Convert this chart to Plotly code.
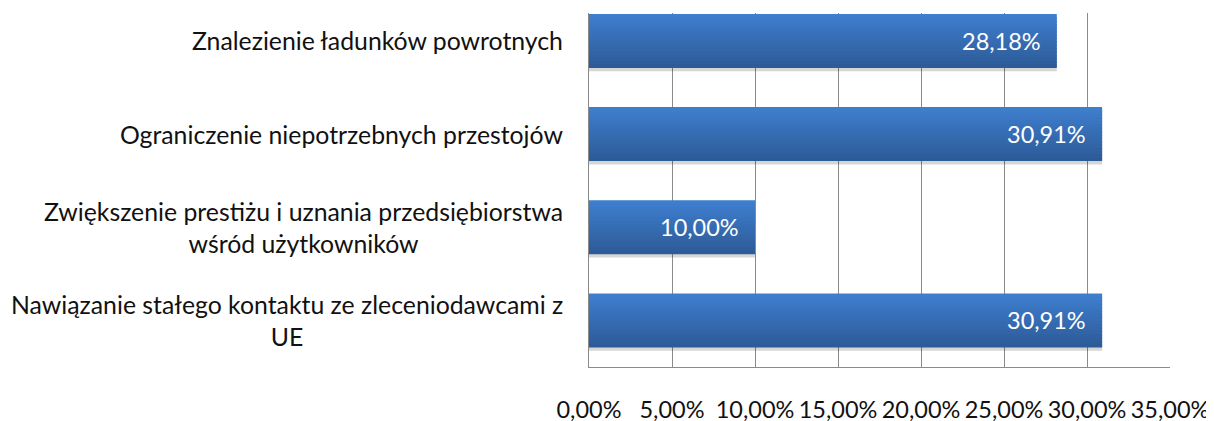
import plotly.graph_objects as go

categories = [
    "Znalezienie ładunków powrotnych",
    "Ograniczenie niepotrzebnych przestojów",
    "Zwiększenie prestiżu i uznania przedsiębiorstwa<br>wśród użytkowników",
    "Nawiązanie stałego kontaktu ze zleceniodawcami z<br>UE",
]
values = [0.2818, 0.3091, 0.1000, 0.3091]
tick_vals = [0, 0.05, 0.10, 0.15, 0.20, 0.25, 0.30, 0.35]

FONT = "Lato"
ypos = list(range(len(categories)))

top_rgb = (62, 126, 206)
bot_rgb = (45, 91, 152)
n = 16
bar_w = 0.58
strip = bar_w / n

fig = go.Figure()
# soft shadow below the bars
fig.add_trace(go.Bar(
    x=values, y=ypos, orientation="h",
    width=bar_w, offset=-bar_w / 2 + 0.035,
    marker=dict(color="rgba(0,0,0,0.16)", line=dict(width=0)),
    hoverinfo="skip", showlegend=False,
))
for k in range(n):
    t = k / (n - 1)
    c = tuple(round(top_rgb[i] + (bot_rgb[i] - top_rgb[i]) * t) for i in range(3))
    w = strip * 1.6 if k < n - 1 else strip
    fig.add_trace(go.Bar(
        x=values, y=ypos, orientation="h",
        width=w, offset=-bar_w / 2 + k * strip,
        marker=dict(color="rgb(%d,%d,%d)" % c, line=dict(width=0)),
        hoverinfo="skip", showlegend=False,
    ))

annotations = []
for i, (cat, v) in enumerate(zip(categories, values)):
    annotations.append(dict(
        x=0, xref="paper", y=i, yref="y", text=cat, showarrow=False,
        xanchor="right", yanchor="middle", align="center", xshift=-24,
        font=dict(family=FONT, size=24.8, color="#111111"),
    ))
    annotations.append(dict(
        x=v, xref="x", y=i, yref="y",
        text=("%.2f%%" % (v * 100)).replace(".", ","), showarrow=False,
        xanchor="right", yanchor="middle", xshift=-14,
        font=dict(family=FONT, size=23.5, color="white"),
    ))

fig.update_layout(
    width=1214, height=421,
    margin=dict(l=581, r=52, t=5, b=62),
    paper_bgcolor="white", plot_bgcolor="white",
    barmode="overlay", separators=", ",
    annotations=annotations, showlegend=False,
    font=dict(family=FONT, size=23.5, color="#111111"),
    xaxis=dict(
        range=[0, 0.35], tickvals=tick_vals, tickformat=".2%",
        showgrid=True, gridcolor="#8a8a8a", gridwidth=1,
        showline=True, linecolor="#8a8a8a", linewidth=1,
        zeroline=False, ticks="", ticklabelstandoff=22, automargin=False,
        tickfont=dict(family=FONT, size=23.5, color="#111111"),
    ),
    yaxis=dict(
        range=[3.5, -0.3], showticklabels=False, showgrid=False,
        zeroline=False, showline=True, linecolor="#8a8a8a", linewidth=1,
        ticks="", automargin=False,
    ),
)

fig.write_html("out.html")
